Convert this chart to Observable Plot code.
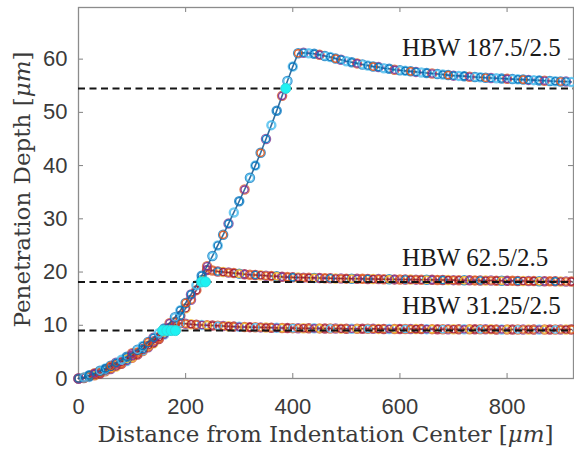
<!DOCTYPE html>
<html>
<head>
<meta charset="utf-8">
<script src="https://cdn.jsdelivr.net/npm/d3@7"></script>
<script src="https://cdn.jsdelivr.net/npm/@observablehq/plot@0.6"></script>
<style>
  html, body { margin: 0; padding: 0; background: #fff; }
</style>
</head>
<body>
<div id="chart"></div>
<script>
// ---------- data ----------
const distance = [0,10,20,30,40,50,60,70,80,90,100,110,120,130,140,150,160,170,180,190,200,210,220,230,240,250,260,270,280,290,300,310,320,330,340,350,360,370,380,390,400,410,420,430,440,450,460,470,480,490,500,510,520,530,540,550,560,570,580,590,600,610,620,630,640,650,660,670,680,690,700,710,720,730,740,750,760,770,780,790,800,810,820,830,840,850,860,870,880,890,900,910,920];

const depthHBW187 = [0,0.2,0.6,1.0,1.45,1.9,2.4,2.95,3.5,4.1,4.75,5.4,6.1,6.85,7.65,8.5,9.4,10.4,11.5,12.8,14.2,15.8,17.5,19.3,21.1,23.0,25.0,27.0,29.1,31.2,33.3,35.5,37.7,40.0,42.4,45.0,47.6,50.3,53.1,55.9,58.6,61.1,61.2,61.1,61.0,60.8,60.6,60.4,60.1,59.9,59.6,59.4,59.2,59.0,58.8,58.6,58.5,58.3,58.2,58.0,57.9,57.8,57.7,57.6,57.5,57.4,57.3,57.2,57.1,57.0,56.9,56.85,56.8,56.7,56.65,56.6,56.5,56.45,56.4,56.35,56.3,56.25,56.2,56.15,56.1,56.05,56.0,55.95,55.9,55.85,55.8,55.8,55.7];

const depthHBW62 = [0,0.15,0.45,0.85,1.25,1.7,2.15,2.65,3.15,3.7,4.3,4.9,5.55,6.25,7.0,7.8,8.65,9.55,10.6,11.8,13.2,14.8,16.6,18.5,20.4,20.3,20.1,20.0,19.9,19.8,19.7,19.6,19.5,19.45,19.4,19.3,19.25,19.2,19.1,19.05,19.0,18.98,18.95,18.92,18.9,18.88,18.85,18.83,18.8,18.78,18.76,18.75,18.73,18.72,18.7,18.68,18.67,18.65,18.64,18.62,18.6,18.6,18.58,18.57,18.55,18.55,18.53,18.52,18.5,18.5,18.48,18.47,18.45,18.45,18.43,18.42,18.4,18.4,18.38,18.37,18.35,18.35,18.33,18.32,18.3,18.3,18.28,18.27,18.25,18.25,18.23,18.22,18.2];

const depthHBW31 = [0,0.1,0.3,0.6,0.95,1.35,1.8,2.25,2.75,3.3,3.9,4.5,5.15,5.85,6.6,7.4,8.25,9.15,10.1,10.4,10.3,10.2,10.1,10.05,10.0,9.95,9.9,9.85,9.8,9.75,9.7,9.68,9.65,9.62,9.6,9.57,9.55,9.52,9.5,9.48,9.46,9.45,9.44,9.43,9.42,9.41,9.4,9.39,9.38,9.37,9.36,9.35,9.35,9.34,9.33,9.33,9.32,9.31,9.31,9.3,9.3,9.29,9.29,9.28,9.28,9.27,9.27,9.26,9.26,9.25,9.25,9.25,9.24,9.24,9.24,9.23,9.23,9.23,9.22,9.22,9.22,9.21,9.21,9.21,9.21,9.2,9.2,9.2,9.2,9.2,9.2,9.2,9.2];

const referenceDepths = [54.5, 18.15, 9.0];

const crossX = [387, 230, 237, 157, 165, 173, 181];
const crossY = [54.5, 18.15, 18.15, 9.0, 9.0, 9.0, 9.0];

const labels = ["HBW 187.5/2.5", "HBW 62.5/2.5", "HBW 31.25/2.5"];
const labelX = [604, 604, 604];
const labelY = [60.65, 21.07, 12.06];

const xTicks = [0, 200, 400, 600, 800];
const yTicks = [0, 10, 20, 30, 40, 50, 60];

const xTitle = ["Distance from Indentation Center [", "μm", "]"];
const yTitle = ["Penetration Depth [", "μm", "]"];

// ---------- styling ----------
const W = 574, H = 454, mL = 78, mR = 1, mT = 7, mB = 76;
const innerW = W - mL - mR, innerH = H - mT - mB;
const pal187 = ["#0072BD","#4DBEEE","#0072BD","#7E2F8E","#4DBEEE","#0072BD","#D95319"];
const pal62  = ["#D95319","#A2142F","#EDB120","#7E2F8E","#D95319","#0072BD","#A2142F"];
const pal31  = ["#A2142F","#D95319","#7E2F8E","#EDB120","#A2142F","#4DBEEE","#D95319"];

function series(ys, pal, lineColor) {
  const rows = distance.map((x, i) => ({x, y: ys[i], c: pal[i % pal.length], c2: pal[(i + 3) % pal.length]}));
  return [
    Plot.dot(rows, {x: "x", y: "y", r: 4.6, stroke: "c2", strokeWidth: 1.3, fill: "none", strokeOpacity: 0.75}),
    Plot.line(rows, {x: "x", y: "y", stroke: lineColor, strokeWidth: 1.6, strokeOpacity: 0.9}),
    Plot.dot(rows, {x: "x", y: "y", r: 3.6, stroke: "c", strokeWidth: 1.4, fill: "none", strokeOpacity: 0.9})
  ];
}

const plot = Plot.plot({
  width: W, height: H,
  marginLeft: mL, marginRight: mR, marginTop: mT, marginBottom: mB,
  style: {fontFamily: "'Liberation Sans', Arial, sans-serif", fontSize: "22px", background: "white", color: "#3a3a3a", overflow: "visible"},
  x: {domain: [0, 924], label: null},
  y: {domain: [0, 69.7], label: null},
  color: {type: "identity"},
  marks: [
    Plot.axisX(xTicks, {tickSize: 0, tickPadding: 20, fontSize: 22, fill: "#3a3a3a", label: null}),
    Plot.axisY(yTicks, {tickSize: 0, tickPadding: 11, fontSize: 22, fill: "#3a3a3a", label: null}),
    Plot.tickX(xTicks, {x: d => d, insetTop: innerH - 5, stroke: "#808080"}),
    Plot.tickX(xTicks, {x: d => d, insetBottom: innerH - 5, stroke: "#808080"}),
    Plot.tickY(yTicks, {y: d => d, insetRight: innerW - 5, stroke: "#808080"}),
    Plot.tickY(yTicks, {y: d => d, insetLeft: innerW - 5, stroke: "#808080"}),
    Plot.frame({stroke: "#8c8c8c", strokeWidth: 1.3}),
    ...series(depthHBW31, pal31, "#7a2a3a"),
    ...series(depthHBW62, pal62, "#7a2a3a"),
    ...series(depthHBW187, pal187, "#1d5f96"),
    Plot.ruleY(referenceDepths, {y: d => d, stroke: "#151515", strokeWidth: 2, strokeDasharray: "7,4.5"}),
    Plot.dot(crossX.map((x, i) => ({x, y: crossY[i]})), {x: "x", y: "y", r: 5, fill: "#1EF2F2", stroke: "#2fd6dc", strokeWidth: 1}),
    Plot.text(labels, {x: labelX, y: labelY, text: d => d, textAnchor: "start", lineAnchor: "bottom",
      fontFamily: "'Liberation Serif', 'Times New Roman', serif", fontSize: 25, fill: "#1a1a1a"})
  ]
});

document.getElementById("chart").appendChild(plot);

// axis titles with italic unit
const svg = d3.select(plot);
function title(parts, attrs) {
  const t = svg.append("text")
    .attr("text-anchor", "middle")
    .attr("fill", "#3a3a3a")
    .style("font-family", "'DejaVu Serif', serif")
    .style("font-size", "23px");
  for (const [k, v] of Object.entries(attrs)) t.attr(k, v);
  t.append("tspan").text(parts[0]);
  t.append("tspan").style("font-style", "italic").text(parts[1]);
  t.append("tspan").text(parts[2]);
}
title(xTitle, {x: mL + innerW / 2, y: 442});
title(yTitle, {transform: `translate(30, ${mT + innerH / 2 - 3}) rotate(-90)`});
</script>
</body>
</html>
